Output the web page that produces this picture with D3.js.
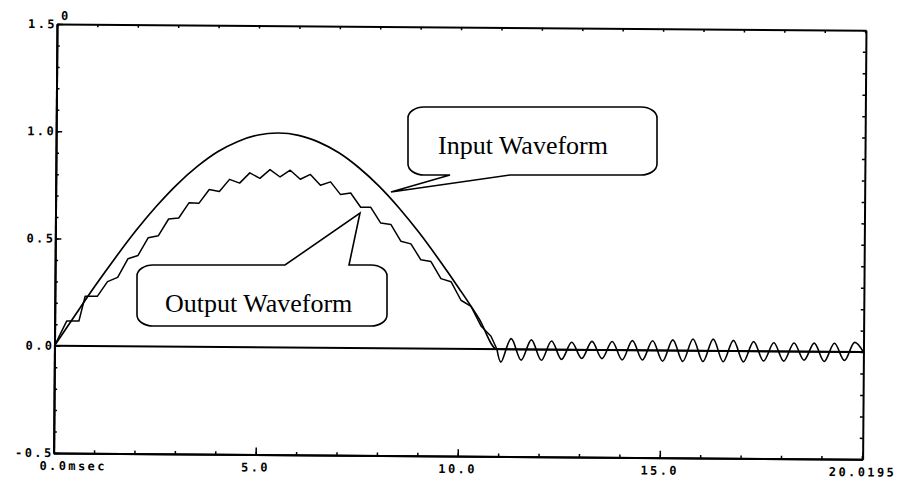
<!DOCTYPE html>
<html><head><meta charset="utf-8">
<script src="https://cdn.jsdelivr.net/npm/d3@7"></script>
<style>body{margin:0;background:#fff}svg{display:block}</style>
</head><body>
<svg id="c" width="904" height="484"></svg>
<script>
// ---- data ----
const inputTime  = [0,0.5,1,1.5,2,2.5,3,3.5,4,4.5,5,5.5,6,6.5,7,7.5,8,8.5,9,9.5,10,10.5,10.95,20.0195];
const inputValue = [0,0.142,0.282,0.415,0.541,0.655,0.756,0.841,0.910,0.959,0.990,1.0,0.990,0.959,0.910,0.841,0.756,0.655,0.541,0.415,0.282,0.142,0,0];

const outputTime = [0,0.3,0.6,0.75,1.05,1.3,1.55,1.8,2.05,2.3,2.55,2.8,3.05,3.3,3.55,3.8,4.05,4.3,4.55,4.8,5.05,5.3,5.55,5.8,6.05,6.3,6.55,6.8,7.05,7.3,7.55,7.8,8.05,8.3,8.55,8.8,9.05,9.3,9.55,9.8,10.05,10.3,10.55,10.8,10.95,
  11.05,11.3,11.55,11.8,12.05,12.3,12.55,12.8,13.05,13.3,13.55,13.8,14.05,14.3,14.55,14.8,15.05,15.3,15.55,15.8,16.05,16.3,16.55,16.8,17.05,17.3,17.55,17.8,18.05,18.3,18.55,18.8,19.05,19.3,19.55,19.8,20.0195];
const outputValue = [0,0.116,0.116,0.232,0.232,0.301,0.321,0.408,0.424,0.507,0.517,0.595,0.600,0.671,0.670,0.734,0.725,0.782,0.765,0.813,0.788,0.829,0.795,0.827,0.785,0.808,0.758,0.774,0.715,0.723,0.657,0.657,0.584,0.578,0.500,0.488,0.414,0.406,0.327,0.313,0.227,0.199,0.108,0.060,0.0,
  -0.06,0.05,-0.05,0.045,-0.05,0.04,-0.045,0.035,-0.04,0.04,-0.04,0.04,-0.045,0.045,-0.045,0.045,-0.05,0.05,-0.05,0.055,-0.05,0.055,-0.05,0.05,-0.05,0.045,-0.045,0.04,-0.045,0.04,-0.04,0.04,-0.045,0.04,-0.04,0.045,0.0];
const tailStart = 11;

const yMajorValues = [1.5,1.0,0.5,0.0,-0.5];
const yTickLabels  = ["1.5","1.0","0.5","0.0","-0.5"];
const xMajorValues = [0,5,10,15,20.0195];
const xTickLabels  = ["0.0msec","5.0","10.0","15.0","20.0195"];
const cornerLabel = "0";
const inputCallout = "Input Waveform";
const outputCallout = "Output Waveform";

// ---- layout ----
const W = 809, H = 429;
const svg = d3.select("#c");
const g = svg.append("g").attr("transform","translate(57,24) rotate(0.45)");
const x = d3.scaleLinear().domain([0,20.0195]).range([0,W]);
const y = d3.scaleLinear().domain([-0.5,1.5]).range([H,0]);

const axisStyle = sel => { sel.selectAll("path.domain").attr("stroke","#000").attr("stroke-width",2);
  sel.selectAll(".tick line").attr("stroke","#000").attr("stroke-width",1.5); sel.selectAll("text").remove(); };

const minorY = d3.range(-5,16).map(i=>i/10);
const minorX = d3.range(0,21);
g.append("g").call(d3.axisLeft(y).tickValues(minorY).tickSizeInner(-3).tickSizeOuter(0)).call(axisStyle);
g.append("g").call(d3.axisLeft(y).tickValues(yMajorValues).tickSizeInner(-6).tickSizeOuter(0)).call(axisStyle);
g.append("g").attr("transform",`translate(${W},0)`).call(d3.axisRight(y).tickValues(minorY).tickSizeInner(-3).tickSizeOuter(0)).call(axisStyle);
g.append("g").attr("transform",`translate(0,${H})`).call(d3.axisBottom(x).tickValues(minorX).tickSizeInner(-3).tickSizeOuter(0)).call(axisStyle);
g.append("g").attr("transform",`translate(0,${H})`).call(d3.axisBottom(x).tickValues(xMajorValues).tickSizeInner(-7).tickSizeOuter(0)).call(axisStyle);
g.append("g").call(d3.axisTop(x).tickValues(minorX).tickSizeInner(-3).tickSizeOuter(0)).call(axisStyle);

const lab = {"font-family":"DejaVu Sans Mono","font-weight":"bold","font-size":"12px","letter-spacing":"2.4px","fill":"#000"};
const applyLab = s => { for (const k in lab) s.style(k, lab[k]); return s; };
yMajorValues.forEach((v,i)=>{
  applyLab(g.append("text").attr("x",0).attr("y",y(v)).attr("dy","0.35em").attr("text-anchor","end").text(yTickLabels[i]));
});
xMajorValues.forEach((v,i)=>{
  const t = g.append("text").attr("x", i===0 ? x(v)-14 : x(v)).attr("y",H+17)
    .attr("text-anchor", i===0 ? "start" : "middle").text(xTickLabels[i]);
  applyLab(t);
});
applyLab(g.append("text").attr("x",4).attr("y",-4).style("font-size","11px").text(cornerLabel));

// zero line
g.append("line").attr("x1",x(0)).attr("x2",x(20.0195)).attr("y1",y(0)).attr("y2",y(0))
  .attr("stroke","#000").attr("stroke-width",2);

// input
const inputData = inputTime.map((t,i)=>[t,inputValue[i]]);
g.append("path").datum(inputData)
  .attr("d", d3.line().x(d=>x(d[0])).y(d=>y(d[1])).curve(d3.curveMonotoneX))
  .attr("fill","none").attr("stroke","#000").attr("stroke-width",1.7);

// output
const outputData = outputTime.map((t,i)=>[t,outputValue[i]]);
const hump = outputData.filter(d=>d[0] <= tailStart);
const tail = outputData.filter(d=>d[0] >= 10.95);
g.append("path").datum(hump)
  .attr("d", d3.line().x(d=>x(d[0])).y(d=>y(d[1])))
  .attr("fill","none").attr("stroke","#000").attr("stroke-width",1.5).attr("stroke-linejoin","round");
g.append("path").datum(tail)
  .attr("d", d3.line().x(d=>x(d[0])).y(d=>y(d[1])).curve(d3.curveCatmullRom.alpha(0.5)))
  .attr("fill","none").attr("stroke","#000").attr("stroke-width",1.6);

// callouts (overlay)
function callout(x0,y0,x1,y1,rx,ry,side,b0,b1,tip){
  const p = d3.path();
  p.moveTo(x0+rx,y0);
  if (side==="top"){ p.lineTo(b0,y0); p.lineTo(tip[0],tip[1]); p.lineTo(b1,y0); }
  p.lineTo(x1-rx,y0);
  p.bezierCurveTo(x1-rx*0.45,y0, x1,y0+ry*0.45, x1,y0+ry);
  p.lineTo(x1,y1-ry);
  p.bezierCurveTo(x1,y1-ry*0.45, x1-rx*0.45,y1, x1-rx,y1);
  if (side==="bottom"){ p.lineTo(b1,y1); p.lineTo(tip[0],tip[1]); p.lineTo(b0,y1); }
  p.lineTo(x0+rx,y1);
  p.bezierCurveTo(x0+rx*0.45,y1, x0,y1-ry*0.45, x0,y1-ry);
  p.lineTo(x0,y0+ry);
  p.bezierCurveTo(x0,y0+ry*0.45, x0+rx*0.45,y0, x0+rx,y0);
  p.closePath();
  return p.toString();
}
svg.append("path").attr("d",callout(408,107,657,175,16,11,"bottom",450,510,[391,192]))
  .attr("fill","#fff").attr("stroke","#000").attr("stroke-width",1.6);
svg.append("path").attr("d",callout(137,265,387,326,16,11,"top",285,349,[360,213]))
  .attr("fill","#fff").attr("stroke","#000").attr("stroke-width",1.6);
const serif = s => s.style("font-family","'Liberation Serif','Times New Roman',serif").style("font-size","26px").attr("fill","#000");
serif(svg.append("text").attr("x",438).attr("y",154).text(inputCallout));
serif(svg.append("text").attr("x",165).attr("y",312).text(outputCallout));
</script>
</body></html>
